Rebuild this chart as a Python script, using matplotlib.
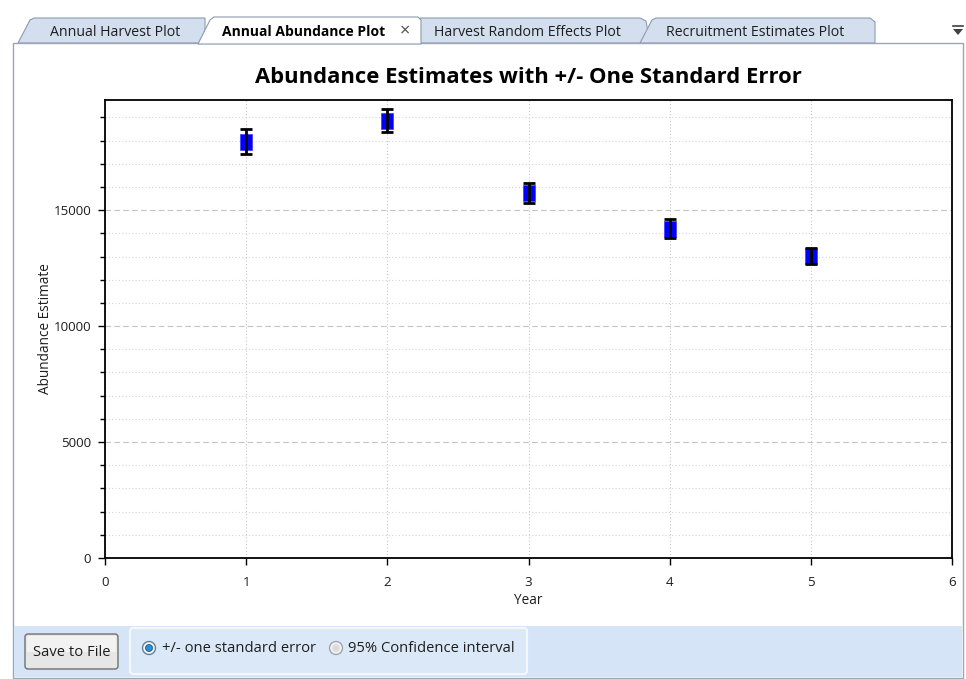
import matplotlib
matplotlib.use("Agg")
import matplotlib.pyplot as plt
from matplotlib.patches import Polygon, Rectangle, FancyBboxPatch, Circle
from matplotlib.ticker import MultipleLocator
import numpy as np

# ---- data ----
years = [1, 2, 3, 4, 5]
abundance = [17950, 18850, 15740, 14200, 13030]
std_error = [530, 500, 450, 420, 340]

title = "Abundance Estimates with +/- One Standard Error"
xlabel = "Year"
ylabel = "Abundance Estimate"
tab_labels = ["Annual Harvest Plot", "Annual Abundance Plot", "Harvest Random Effects Plot", "Recruitment Estimates Plot"]
radio_labels = ["+/- one standard error", "95% Confidence interval"]
button_label = "Save to File"

FONT = ["Open Sans", "DejaVu Sans"]
plt.rcParams['font.family'] = FONT

W, H = 966, 679
fig = plt.figure(figsize=(W / 100, H / 100), dpi=100)
fig.patch.set_facecolor("white")

# ---- GUI background layer (pixel coords, y downward) ----
bg = fig.add_axes([0, 0, 1, 1], zorder=0)
bg.set_xlim(0, W)
bg.set_ylim(H, 0)
bg.axis("off")

# inactive tabs
inactive_fc = "#d3dfee"
tab_ec = "#8c9bb0"
tabs = [
    [(18, 43), (30, 20), (34, 18), (205, 18), (205, 43)],
    [(420, 43), (420, 18), (640, 18), (646, 21), (650, 43)],
    [(640, 43), (652, 20), (656, 18), (870, 18), (875, 22), (875, 43)],
]
for pts in tabs:
    bg.add_patch(Polygon(pts, closed=True, facecolor=inactive_fc, edgecolor=tab_ec, lw=0.8))
# active tab
bg.add_patch(Polygon([(198, 44), (210, 20), (214, 17), (418, 17), (421, 20), (421, 44)],
                     closed=True, facecolor="white", edgecolor="#8c9bb0", lw=0.8, zorder=3))

tab_font = dict(fontsize=10.2, va="center", color="#1e1e1e")
bg.text(115, 32.5, tab_labels[0], ha="center", **tab_font)
bg.text(304, 32.5, tab_labels[1], ha="center", fontweight="bold", fontsize=10.0, va="center", color="black", zorder=4)
bg.text(405, 31.5, "\u00d7", ha="center", fontsize=13, va="center", color="#505050", zorder=4)
bg.text(527, 32.5, tab_labels[2], ha="center", **tab_font)
bg.text(755, 32.5, tab_labels[3], ha="center", **tab_font)

# dropdown glyph
bg.plot([953, 963], [26, 26], color="#404040", lw=1.2)
bg.add_patch(Polygon([(953, 29), (963, 29), (958, 35)], closed=True, facecolor="#404040", edgecolor="none"))

# main panel
bg.add_patch(Rectangle((13, 43), 950, 635, facecolor="white", edgecolor="#9aa6b4", lw=1.0, zorder=1))
# bottom strip
bg.add_patch(Rectangle((14, 626), 948, 51, facecolor="#d5e5f7", edgecolor="none", zorder=2))

# button
bg.add_patch(FancyBboxPatch((25, 634), 93, 35, boxstyle="round,pad=0,rounding_size=3",
                            facecolor="#e6e6e6", edgecolor="#707070", lw=1.0, zorder=3))
bg.add_patch(Rectangle((27, 636), 89, 16, facecolor="#f2f2f2", edgecolor="none", zorder=3))
bg.text(72, 652, button_label, ha="center", va="center", fontsize=10.6, color="#1e1e1e", zorder=4)

# radio group box
bg.add_patch(FancyBboxPatch((130, 628), 397, 46, boxstyle="round,pad=0,rounding_size=3",
                            facecolor="#dbe8f8", edgecolor="#f4f8fd", lw=1.5, zorder=3))
# radio 1 (checked)
bg.add_patch(Circle((149, 648), 6.5, facecolor="#f4f4f4", edgecolor="#6a7f96", lw=1.0, zorder=4))
bg.add_patch(Circle((149, 648), 3.5, facecolor="#2a8fd0", edgecolor="#1b5f90", lw=0.6, zorder=5))
bg.text(162, 648, radio_labels[0], ha="left", va="center", fontsize=10.6, color="#1e1e1e", zorder=4)
# radio 2
bg.add_patch(Circle((336, 648), 6.5, facecolor="#eeeeee", edgecolor="#a0a8b0", lw=1.0, zorder=4))
bg.add_patch(Circle((336, 648), 3.5, facecolor="#dadada", edgecolor="none", zorder=5))
bg.text(348, 648, radio_labels[1], ha="left", va="center", fontsize=10.6, color="#1e1e1e", zorder=4)

# ---- chart ----
left, right, top, bottom = 105, 952, 100, 558
ax = fig.add_axes([left / W, 1 - bottom / H, (right - left) / W, (bottom - top) / H], zorder=2)
ax.set_facecolor("white")

ax.set_xlim(0, 6)
ax.set_ylim(0, 19750)
ax.xaxis.set_major_locator(MultipleLocator(1))
ax.yaxis.set_major_locator(MultipleLocator(5000))
ax.yaxis.set_minor_locator(MultipleLocator(1000))

ax.grid(True, which="major", axis="y", color="#c4c4c4", linestyle=(0, (5, 3)), lw=0.8)
ax.grid(True, which="minor", axis="y", color="#d4d4d4", linestyle=(0, (1, 2)), lw=0.8)
ax.grid(True, which="major", axis="x", color="#c8c8c8", linestyle=(0, (1, 2)), lw=0.8)
ax.set_axisbelow(True)

for s in ax.spines.values():
    s.set_color("black")
    s.set_linewidth(1.3)

ax.tick_params(axis="both", which="major", direction="out", length=5, width=1.0, colors="black",
               labelsize=9.6, labelcolor="#1e1e1e")
ax.tick_params(axis="y", which="minor", direction="out", length=3.5, width=1.0, colors="black")
ax.tick_params(axis="x", pad=8)
ax.tick_params(axis="y", pad=5)

marker = [(-0.75, -1), (0.75, -1), (0.75, 1), (-0.75, 1), (-0.75, -1)]
ax.plot(years, abundance, linestyle="none", marker=marker, markersize=12,
        markerfacecolor="#0000ff", markeredgecolor="#3a3aff", markeredgewidth=0.5, zorder=3)
ax.errorbar(years, abundance, yerr=std_error, fmt="none", ecolor="black", elinewidth=2.0,
            capsize=4.5, capthick=2.0, zorder=5)

ax.set_title(title, fontsize=15.8, fontweight="bold", pad=12, color="black")
ax.set_xlabel(xlabel, fontsize=9.8, color="#1e1e1e", labelpad=3)
ax.set_ylabel(ylabel, fontsize=9.8, color="#1e1e1e", labelpad=0)

fig.savefig("out.png", dpi=100)
